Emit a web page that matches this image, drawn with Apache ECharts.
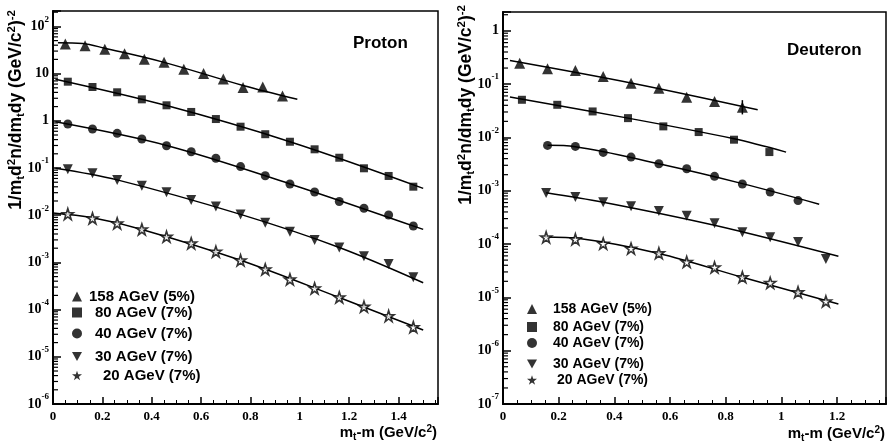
<!DOCTYPE html>
<html><head><meta charset="utf-8">
<script src="https://cdn.jsdelivr.net/npm/echarts@6/dist/echarts.min.js"></script>
<style>html,body{margin:0;padding:0;background:#fff}#c{width:889px;height:443px}</style>
</head><body><div id="c"></div>
<script>
// ---------------- DATA ----------------
const seriesNames = ['158 AGeV (5%)', '80 AGeV (7%)', '40 AGeV (7%)', '30 AGeV (7%)', '20 AGeV (7%)'];

// Proton
const protonX158 = [0.05, 0.13, 0.21, 0.29, 0.37, 0.45, 0.53, 0.61, 0.69, 0.77, 0.85, 0.93];
const proton158  = [42.4, 39, 32.7, 26.4, 20.1, 17.3, 12.3, 10.1, 7.7, 5.1, 5.2, 3.35];
const protonX    = [0.06, 0.16, 0.26, 0.36, 0.46, 0.56, 0.66, 0.76, 0.86, 0.96, 1.06, 1.16, 1.26, 1.36, 1.46];
const proton80   = [6.74, 5.2, 4.02, 2.85, 2.13, 1.54, 1.09, 0.75, 0.52, 0.36, 0.249, 0.165, 0.0986, 0.0678, 0.0402];
const proton40   = [0.855, 0.67, 0.543, 0.411, 0.296, 0.221, 0.161, 0.107, 0.0687, 0.0458, 0.031, 0.0195, 0.014, 0.0101, 0.0059];
const proton30   = [0.0937, 0.0773, 0.0557, 0.0422, 0.0305, 0.021, 0.0153, 0.0104, 0.00693, 0.00447, 0.00299, 0.00207, 0.00135, 0.000925, 0.000483];
const proton20   = [0.0106, 0.0086, 0.00673, 0.00502, 0.0035, 0.00254, 0.00169, 0.00111, 0.000714, 0.000438, 0.000282, 0.000182, 0.000115, 0.0000731, 0.0000427];

// Proton fit curves (x, y)
const protonFit158X = [0.02, 0.12, 0.21, 0.45, 0.77, 0.99];
const protonFit158  = [45, 43.4, 34.4, 17.3, 5.6, 2.85];
const protonFit80X  = [0.01, 0.46, 0.96, 1.5];
const protonFit80   = [7.6, 2.1, 0.36, 0.037];
const protonFit40X  = [0.01, 0.46, 0.96, 1.5];
const protonFit40   = [0.95, 0.3, 0.046, 0.005];
const protonFit30X  = [0.01, 0.26, 0.76, 1.16, 1.5];
const protonFit30   = [0.099, 0.056, 0.0104, 0.00207, 0.00037];
const protonFit20X  = [0.0, 0.16, 0.36, 0.76, 1.16, 1.5];
const protonFit20   = [0.0111, 0.0088, 0.005, 0.00111, 0.00018, 0.000037];

// Deuteron
const deutX158 = [0.06, 0.16, 0.26, 0.36, 0.46, 0.56, 0.66, 0.76, 0.86];
const deut158  = [0.246, 0.194, 0.18, 0.139, 0.104, 0.0838, 0.0569, 0.0472, 0.0369];
const deutX80  = [0.068, 0.195, 0.322, 0.449, 0.576, 0.703, 0.83, 0.957];
const deut80   = [0.0508, 0.0409, 0.0307, 0.023, 0.0161, 0.0126, 0.00906, 0.00531];
const deutX40  = [0.16, 0.26, 0.36, 0.46, 0.56, 0.66, 0.76, 0.86, 0.96, 1.06];
const deut40   = [0.00708, 0.00678, 0.00524, 0.00428, 0.00321, 0.00259, 0.00186, 0.00134, 0.000946, 0.000653];
const deutX30  = [0.155, 0.26, 0.36, 0.46, 0.56, 0.66, 0.76, 0.86, 0.96, 1.06, 1.16];
const deut30   = [0.000906, 0.000762, 0.000607, 0.000511, 0.000417, 0.00034, 0.000245, 0.000166, 0.000134, 0.000109, 0.0000524];
const deutX20  = [0.155, 0.26, 0.36, 0.46, 0.56, 0.66, 0.76, 0.86, 0.96, 1.06, 1.16];
const deut20   = [0.000134, 0.000123, 0.000102, 0.0000824, 0.0000673, 0.0000462, 0.0000365, 0.0000239, 0.0000187, 0.0000125, 0.0000084];

const deutFit158X = [0.025, 0.46, 0.915];
const deutFit158  = [0.277, 0.105, 0.033];
const deutFit80X  = [0.025, 0.449, 0.826, 1.017];
const deutFit80   = [0.057, 0.023, 0.0095, 0.0053];
const deutFit40X  = [0.16, 0.26, 0.56, 0.86, 1.136];
const deutFit40   = [0.0071, 0.0067, 0.0032, 0.00136, 0.00056];
const deutFit30X  = [0.155, 0.36, 0.76, 1.205];
const deutFit30   = [0.00092, 0.00061, 0.000225, 0.000059];
const deutFit20X  = [0.15, 0.28, 0.56, 0.86, 1.205];
const deutFit20   = [0.000135, 0.000126, 0.0000665, 0.0000238, 0.0000075];

// error bar on the last 158 AGeV deuteron point
const deutErrX = [0.86];
const deutErrLow = [0.027];
const deutErrHigh = [0.05];

// minor log ticks (mantissas within each decade)
const minorMantissas = [2, 3, 4, 5, 6, 7, 8, 9];

// ---------------- STYLE ----------------
const SANS = 'Liberation Sans';
const SERIF = 'Liberation Serif';
const starPath = 'path://M5,0 L6.2,3.6 L10,3.6 L6.9,5.9 L8.1,9.5 L5,7.3 L1.9,9.5 L3.1,5.9 L0,3.6 L3.8,3.6 Z';
const downTri = 'path://M0,0 L10,0 L5,9 Z';
const symbols = ['triangle', 'rect', 'circle', downTri, starPath];
const symSizes = [11, 8, 9, 10, 11];

function pairs(xs, ys) { return xs.map((x, i) => [x, ys[i]]); }

function pow10Label(v) {
  const e = Math.log10(v); const r = Math.round(e);
  if (Math.abs(e - r) > 1e-6) return '';
  if (r === 0) return '{b|1}';
  if (r === 1) return '{b|10}';
  return '{b|10}{s|' + r + '}';
}
function xLabel(v) {
  const k = v / 0.2;
  if (Math.abs(k - Math.round(k)) > 1e-6) return '';
  return String(Math.round(v * 10) / 10);
}
const yRich = {
  b: { fontFamily: SERIF, fontWeight: 'bold', fontSize: 14, color: '#000' },
  s: { fontFamily: SERIF, fontWeight: 'bold', fontSize: 9, color: '#000', verticalAlign: 'top', padding: [0, 0, 14, 0] }
};

function xAxisDef(grid, max) {
  return {
    gridIndex: grid, type: 'value', min: 0, max: max, interval: 0.2,
    axisLine: { show: true, onZero: false, lineStyle: { color: '#000', width: 2 } },
    axisTick: { show: true, inside: true, length: 7, lineStyle: { color: '#000', width: 1.5 } },
    minorTick: { show: true, splitNumber: 4, length: 4, lineStyle: { color: '#000', width: 1 } },
    splitLine: { show: false },
    axisLabel: { formatter: xLabel, color: '#000', fontFamily: SERIF, fontWeight: 'bold', fontSize: 13, margin: 6 }
  };
}
function yAxisDef(grid, min, max) {
  return {
    gridIndex: grid, type: 'log', logBase: 10, min: min, max: max, splitNumber: 10,
    axisLine: { show: true, onZero: false, lineStyle: { color: '#000', width: 2 } },
    axisTick: { show: true, inside: true, length: 8, lineStyle: { color: '#000', width: 1.5 } },
    minorTick: { show: false },
    splitLine: { show: false },
    axisLabel: { formatter: pow10Label, rich: yRich, margin: 4 }
  };
}

const series = [];
function addSet(grid, idx, xs, ys, fx, fy) {
  series.push({
    type: 'line', xAxisIndex: grid, yAxisIndex: grid, data: pairs(fx, fy),
    smooth: 0.35, symbol: 'none', silent: true, z: 2,
    lineStyle: { color: '#000', width: 1.5 }
  });
  const isStar = idx === 4;
  series.push({
    type: 'scatter', name: seriesNames[idx], xAxisIndex: grid, yAxisIndex: grid,
    data: pairs(xs, ys), symbol: symbols[idx], symbolSize: symSizes[idx], z: 3,
    itemStyle: isStar ? { color: '#fff', borderColor: '#000', borderWidth: 1.6 } : { color: '#000' }
  });
}
addSet(0, 0, protonX158, proton158, protonFit158X, protonFit158);
addSet(0, 1, protonX, proton80, protonFit80X, protonFit80);
addSet(0, 2, protonX, proton40, protonFit40X, protonFit40);
addSet(0, 3, protonX, proton30, protonFit30X, protonFit30);
addSet(0, 4, protonX, proton20, protonFit20X, protonFit20);
addSet(1, 0, deutX158, deut158, deutFit158X, deutFit158);
addSet(1, 1, deutX80, deut80, deutFit80X, deutFit80);
addSet(1, 2, deutX40, deut40, deutFit40X, deutFit40);
addSet(1, 3, deutX30, deut30, deutFit30X, deutFit30);
addSet(1, 4, deutX20, deut20, deutFit20X, deutFit20);

// error bar
series.push({
  type: 'custom', xAxisIndex: 1, yAxisIndex: 1, silent: true, z: 4,
  data: deutErrX.map((x, i) => [x, deutErrLow[i], deutErrHigh[i]]),
  renderItem: function (params, api) {
    const a = api.coord([api.value(0), api.value(1)]);
    const b = api.coord([api.value(0), api.value(2)]);
    return { type: 'line', shape: { x1: a[0], y1: a[1], x2: b[0], y2: b[1] }, style: { stroke: '#000', lineWidth: 1.5 } };
  }
});

// minor log ticks on the y axes
function minorTickSeries(grid, minExp, maxExp, maxVal) {
  const vals = [];
  for (let e = minExp; e <= maxExp; e++) for (const m of minorMantissas) { const v = m * Math.pow(10, e); if (v < maxVal) vals.push([0, v]); }
  series.push({
    type: 'custom', xAxisIndex: grid, yAxisIndex: grid, silent: true, z: 5, clip: false,
    data: vals,
    renderItem: function (params, api) {
      const p = api.coord([api.value(0), api.value(1)]);
      return { type: 'line', shape: { x1: p[0], y1: p[1], x2: p[0] + 5, y2: p[1] }, style: { stroke: '#000', lineWidth: 1.2 } };
    }
  });
}
minorTickSeries(0, -6, 2, 212);
minorTickSeries(1, -7, 0, 2.25);

// legends: one component per row
const legendRowsL = [297, 313, 334, 357, 376];
const legendPadL = [2, 8, 8, 8, 16];
const legendRowsR = [310, 328, 344, 365, 381];
const legendPadR = [11, 11, 11, 11, 15];
const legends = [];
function mkLegend(idx, cx, cy, pad, fs) {
  legends.push({
    data: [seriesNames[idx]], left: cx - 5, top: cy - 8, padding: 0,
    icon: symbols[idx], itemWidth: 10, itemHeight: 10, selectedMode: false,
    itemStyle: { color: '#000', borderWidth: 0 },
    textStyle: { fontFamily: SANS, fontWeight: 'bold', fontSize: fs, color: '#000', padding: [0, 0, 0, pad] }
  });
}
for (let i = 0; i < 5; i++) mkLegend(i, 77, legendRowsL[i], legendPadL[i], 15);
for (let i = 0; i < 5; i++) mkLegend(i, 532, legendRowsR[i], legendPadR[i], 14);

const titleRich = {
  sup: { fontFamily: SANS, fontWeight: 'bold', fontSize: 11.5, fill: '#000', verticalAlign: 'top', padding: [0, 0, 9, 0] },
  sub: { fontFamily: SANS, fontWeight: 'bold', fontSize: 11.5, fill: '#000', verticalAlign: 'bottom', padding: [9, 0, 0, 0] }
};
const xRich = {
  sup: { fontFamily: SANS, fontWeight: 'bold', fontSize: 10, fill: '#000', verticalAlign: 'top', padding: [0, 0, 8, 0] },
  sub: { fontFamily: SANS, fontWeight: 'bold', fontSize: 10, fill: '#000', verticalAlign: 'bottom', padding: [8, 0, 0, 0] }
};
const yTitle = '1/m{sub|t}d{sup|2}n/dm{sub|t}dy (GeV/c{sup|2}){sup|-2}';
const xTitle = 'm{sub|t}-m (GeV/c{sup|2})';

function txt(x, y, text, opts) {
  return Object.assign({
    type: 'text', x: x, y: y, silent: true,
    style: Object.assign({ text: text, fill: '#000', font: 'bold 15px "Liberation Sans"', rich: xRich }, opts.style || {})
  }, opts.el || {});
}

const option = {
  backgroundColor: '#fff',
  animation: false,
  grid: [
    { left: 53, top: 11, width: 385, height: 393, show: true, borderColor: '#000', borderWidth: 1.5, containLabel: false, outerBoundsMode: 'none' },
    { left: 503, top: 12, width: 383, height: 392, show: true, borderColor: '#000', borderWidth: 1.5, containLabel: false, outerBoundsMode: 'none' }
  ],
  xAxis: [xAxisDef(0, 1.56), xAxisDef(1, 1.376)],
  yAxis: [yAxisDef(0, 1e-6, 212), yAxisDef(1, 1e-7, 2.25)],
  legend: legends,
  series: series,
  graphic: [
    txt(16, 10, yTitle, { el: { rotation: Math.PI / 2 }, style: { textAlign: 'right', textVerticalAlign: 'middle', font: 'bold 17.5px "Liberation Sans"', rich: titleRich } }),
    txt(466, 5, yTitle, { el: { rotation: Math.PI / 2 }, style: { textAlign: 'right', textVerticalAlign: 'middle', font: 'bold 17.5px "Liberation Sans"', rich: titleRich } }),
    txt(437, 433, xTitle, { style: { textAlign: 'right', textVerticalAlign: 'middle' } }),
    txt(885, 434, xTitle, { style: { textAlign: 'right', textVerticalAlign: 'middle' } }),
    txt(353, 43, 'Proton', { style: { textAlign: 'left', textVerticalAlign: 'middle', font: 'bold 17px "Liberation Sans"' } }),
    txt(787, 50, 'Deuteron', { style: { textAlign: 'left', textVerticalAlign: 'middle', font: 'bold 17px "Liberation Sans"' } })
  ]
};
const chart = echarts.init(document.getElementById('c'), null, { renderer: 'canvas' });
chart.setOption(option);
</script></body></html>
